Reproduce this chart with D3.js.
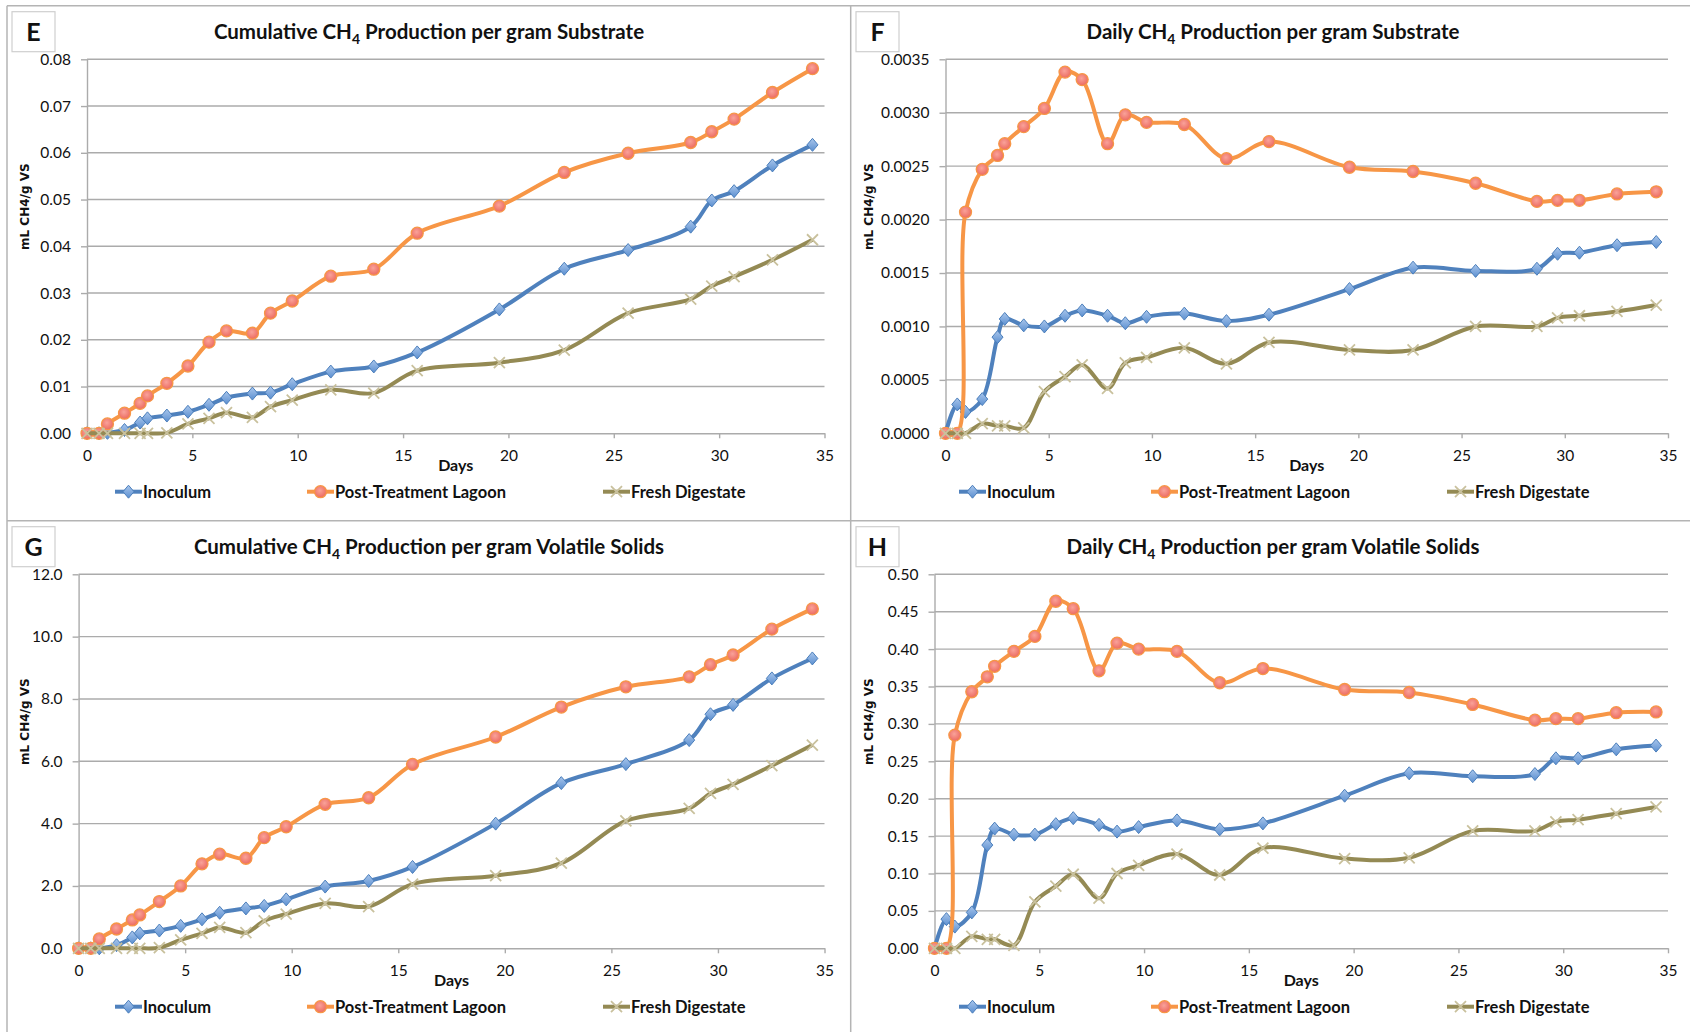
<!DOCTYPE html>
<html>
<head>
<meta charset="utf-8">
<script src="https://cdn.jsdelivr.net/npm/d3@7"></script>
<style>
  body { margin: 0; background: #fff; }
  text { font-family: Lato, "Open Sans", sans-serif; fill: #111; }
</style>
</head>
<body>
<script>
// sampling days (shared by all four panels)
var days = [0, 0.57, 0.97, 1.78, 2.52, 2.87, 3.79, 4.79, 5.79, 6.62, 7.85, 8.71, 9.74, 11.57, 13.61, 15.67, 19.57, 22.65, 25.68, 28.65, 29.65, 30.71, 32.53, 34.43];

var seriesNames = ["Inoculum", "Post-Treatment Lagoon", "Fresh Digestate"];

// E - cumulative per gram substrate
var cumSubInoculum = [0, 0, 0.0001, 0.0007, 0.0023, 0.0032, 0.0038, 0.0046, 0.0061, 0.0076, 0.0085, 0.0087, 0.0105, 0.0132, 0.0143, 0.0173, 0.0265, 0.0352, 0.0392, 0.0442, 0.0498, 0.0518, 0.0573, 0.0617];
var cumSubLagoon = [0, 0, 0.0020, 0.0043, 0.0064, 0.0080, 0.0107, 0.0144, 0.0195, 0.0219, 0.0214, 0.0257, 0.0283, 0.0336, 0.0351, 0.0428, 0.0486, 0.0558, 0.0599, 0.0622, 0.0645, 0.0672, 0.0729, 0.0780];
var cumSubFresh = [0, 0, 0, 0, 0, 0, 0.0001, 0.0020, 0.0032, 0.0044, 0.0034, 0.0057, 0.0071, 0.0093, 0.0086, 0.0134, 0.0151, 0.0178, 0.0257, 0.0287, 0.0315, 0.0335, 0.0371, 0.0414];

// F - daily per gram substrate
var daySubInoculum = [0, 0.00027, 0.00020, 0.00032, 0.00090, 0.00107, 0.00101, 0.00100, 0.00110, 0.00115, 0.00110, 0.00103, 0.00109, 0.00112, 0.00105, 0.00111, 0.00135, 0.00155, 0.00152, 0.00154, 0.00168, 0.00169, 0.00176, 0.00179];
var daySubLagoon = [0, 0, 0.00207, 0.00247, 0.00260, 0.00271, 0.00287, 0.00304, 0.00338, 0.00331, 0.00271, 0.00298, 0.00291, 0.00289, 0.00257, 0.00273, 0.00249, 0.00245, 0.00234, 0.00217, 0.00218, 0.00218, 0.00224, 0.00226];
var daySubFresh = [0, 0, 0, 0.00009, 0.00007, 0.00007, 0.00005, 0.00039, 0.00053, 0.00064, 0.00042, 0.00066, 0.00071, 0.00080, 0.00065, 0.00085, 0.00078, 0.00078, 0.00100, 0.00100, 0.00108, 0.00110, 0.00114, 0.00120];

// G - cumulative per gram volatile solids
var cumVsInoculum = [0, 0, 0, 0.10, 0.35, 0.48, 0.57, 0.72, 0.93, 1.14, 1.28, 1.36, 1.57, 1.98, 2.16, 2.61, 4.00, 5.30, 5.91, 6.68, 7.51, 7.81, 8.66, 9.30];
var cumVsLagoon = [0, 0, 0.30, 0.62, 0.91, 1.07, 1.50, 2.00, 2.71, 3.02, 2.89, 3.55, 3.90, 4.62, 4.83, 5.90, 6.78, 7.74, 8.39, 8.71, 9.10, 9.41, 10.24, 10.89];
var cumVsFresh = [0, 0, 0, 0, 0, 0, 0.02, 0.27, 0.48, 0.67, 0.50, 0.88, 1.10, 1.44, 1.34, 2.06, 2.33, 2.73, 4.09, 4.49, 4.97, 5.26, 5.86, 6.52];

// H - daily per gram volatile solids
var dayVsInoculum = [0, 0.039, 0.029, 0.048, 0.138, 0.160, 0.152, 0.152, 0.166, 0.174, 0.165, 0.156, 0.162, 0.171, 0.159, 0.167, 0.204, 0.234, 0.230, 0.233, 0.254, 0.254, 0.266, 0.271];
var dayVsLagoon = [0, 0, 0.285, 0.343, 0.363, 0.377, 0.397, 0.417, 0.464, 0.454, 0.371, 0.408, 0.400, 0.397, 0.355, 0.374, 0.346, 0.342, 0.326, 0.305, 0.307, 0.307, 0.315, 0.316];
var dayVsFresh = [0, 0, 0, 0.016, 0.012, 0.012, 0.004, 0.062, 0.083, 0.099, 0.067, 0.100, 0.111, 0.126, 0.098, 0.134, 0.120, 0.121, 0.157, 0.157, 0.169, 0.172, 0.180, 0.189];

var xTicks = [0, 5, 10, 15, 20, 25, 30, 35];

var panels = [
  {letter: "E", left: 7, top: 5.7, x0: 87, x1: 824.5, y0: 59.3, y1: 433.3, ymax: 0.08, step: 0.01, fmt: ".2f",
   title: ["Cumulative CH", "4", " Production per gram Substrate"], data: [cumSubInoculum, cumSubLagoon, cumSubFresh]},
  {letter: "F", left: 851, top: 5.7, x0: 945.5, x1: 1668, y0: 59.3, y1: 433.3, ymax: 0.0035, step: 0.0005, fmt: ".4f",
   title: ["Daily CH", "4", " Production per gram Substrate"], data: [daySubInoculum, daySubLagoon, daySubFresh]},
  {letter: "G", left: 7, top: 520.7, x0: 78.6, x1: 824.5, y0: 574.3, y1: 948.3, ymax: 12, step: 2, fmt: ".1f",
   title: ["Cumulative CH", "4", " Production per gram Volatile Solids"], data: [cumVsInoculum, cumVsLagoon, cumVsFresh]},
  {letter: "H", left: 851, top: 520.7, x0: 934.5, x1: 1668, y0: 574.3, y1: 948.3, ymax: 0.5, step: 0.05, fmt: ".2f",
   title: ["Daily CH", "4", " Production per gram Volatile Solids"], data: [dayVsInoculum, dayVsLagoon, dayVsFresh]}
];

var lineColors = ["#4F81BD", "#F79646", "#948A54"];
var gridColor = "#ababab";

var svg = d3.select("body").append("svg")
    .attr("width", 1690)
    .attr("height", 1032);

var defs = svg.append("defs");
var gBlue = defs.append("linearGradient").attr("id", "diam").attr("x1", 0).attr("y1", 0).attr("x2", 0).attr("y2", 1);
gBlue.append("stop").attr("offset", "0%").attr("stop-color", "#a9c6ec");
gBlue.append("stop").attr("offset", "100%").attr("stop-color", "#5b8fd0");
var gRed = defs.append("radialGradient").attr("id", "dot").attr("cx", "45%").attr("cy", "40%").attr("r", "60%");
gRed.append("stop").attr("offset", "0%").attr("stop-color", "#f9a29a");
gRed.append("stop").attr("offset", "100%").attr("stop-color", "#ec6a5e");

// panel frame lines
var frame = [[7, 5.7, 1690, 5.7], [7, 520.7, 1690, 520.7], [7, 5.7, 7, 1032], [850.7, 5.7, 850.7, 1032]];
svg.selectAll(".frame").data(frame).enter().append("line")
    .attr("x1", d => d[0]).attr("y1", d => d[1]).attr("x2", d => d[2]).attr("y2", d => d[3])
    .attr("stroke", "#b4b4b4").attr("stroke-width", 1.5);

function drawMarker(sel, i) {
  if (i == 0) {
    sel.append("path").attr("d", "M0,-6.5L5.5,0L0,6.5L-5.5,0Z")
      .attr("fill", "url(#diam)").attr("stroke", "#4A7EBB").attr("stroke-width", 1);
  } else if (i == 1) {
    sel.append("circle").attr("r", 6)
      .attr("fill", "url(#dot)").attr("stroke", "#F79646").attr("stroke-width", 1.3);
  } else {
    sel.append("path").attr("d", "M-5.5,-5.5L5.5,5.5M-5.5,5.5L5.5,-5.5")
      .attr("stroke", "#c9c19d").attr("stroke-width", 1.8).attr("fill", "none");
  }
}

panels.forEach(function(p) {
  var g = svg.append("g");

  var x = d3.scaleLinear().domain([0, 35]).range([p.x0, p.x1]);
  var y = d3.scaleLinear().domain([0, p.ymax]).range([p.y1, p.y0]);
  var yTicks = d3.range(0, p.ymax + p.step / 2, p.step);

  // letter box
  g.append("rect").attr("x", p.left + 5).attr("y", p.top + 6).attr("width", 43).attr("height", 40)
    .attr("fill", "#fff").attr("stroke", "#cfcfcf").attr("stroke-width", 1.2);
  g.append("text").attr("x", p.left + 26.5).attr("y", p.top + 35).attr("text-anchor", "middle")
    .style("font-size", "25px").style("font-weight", "bold").text(p.letter);

  // title
  var t = g.append("text").attr("x", p.left + 422).attr("y", p.top + 33).attr("text-anchor", "middle")
    .style("font-size", "20.5px").style("font-weight", "bold");
  t.append("tspan").text(p.title[0]);
  t.append("tspan").attr("dy", 5).style("font-size", "14px").text(p.title[1]);
  t.append("tspan").attr("dy", -5).text(p.title[2]);

  // gridlines
  g.selectAll(".grid").data(yTicks.slice(1)).enter().append("line")
    .attr("x1", p.x0).attr("x2", p.x1)
    .attr("y1", d => y(d)).attr("y2", d => y(d))
    .attr("stroke", gridColor).attr("stroke-width", 1.4);

  // axes
  var yAxis = g.append("g").attr("transform", `translate(${p.x0},0)`)
    .call(d3.axisLeft(y).tickValues(yTicks).tickFormat(d3.format(p.fmt)).tickSize(6).tickSizeOuter(0).tickPadding(10));
  var xAxis = g.append("g").attr("transform", `translate(0,${p.y1})`)
    .call(d3.axisBottom(x).tickValues(xTicks).tickFormat(d3.format("d")).tickSize(5).tickSizeOuter(0).tickPadding(12));
  [yAxis, xAxis].forEach(function(a) {
    a.selectAll("path, line").attr("stroke", gridColor).attr("stroke-width", 1.4);
    a.selectAll("text").style("font-size", "15.5px").style("font-family", "Lato, sans-serif").attr("fill", "#111");
  });

  // axis titles
  g.append("text").attr("x", (p.x0 + p.x1) / 2).attr("y", p.top + 465).attr("text-anchor", "middle")
    .style("font-size", "16px").style("font-weight", "bold").text("Days");
  g.append("text")
    .attr("transform", `translate(${p.left + 21.5},${p.top + 201}) rotate(-90)`)
    .attr("text-anchor", "middle")
    .style("font-family", "'DejaVu Sans', sans-serif").style("font-size", "12px").style("font-weight", "bold")
    .text("mL CH4/g VS");

  // series
  var line = d3.line()
    .x(d => x(d[0]))
    .y(d => y(d[1]))
    .curve(d3.curveCatmullRom.alpha(0.5));

  p.data.forEach(function(vals, i) {
    var pts = days.map((d, k) => [d, vals[k]]);
    g.append("path").attr("d", line(pts))
      .attr("fill", "none").attr("stroke", lineColors[i]).attr("stroke-width", 4)
      .attr("stroke-linejoin", "round");
    var m = g.selectAll(".m" + i).data(pts).enter().append("g")
      .attr("transform", d => `translate(${x(d[0])},${y(d[1])})`);
    drawMarker(m, i);
  });

  // legend
  var legX = [108, 300, 596];
  seriesNames.forEach(function(name, i) {
    var lx = p.left + legX[i];
    var ly = p.top + 486;
    g.append("line").attr("x1", lx).attr("x2", lx + 27).attr("y1", ly).attr("y2", ly)
      .attr("stroke", lineColors[i]).attr("stroke-width", 4);
    var m = g.append("g").attr("transform", `translate(${lx + 13.5},${ly})`);
    drawMarker(m, i);
    g.append("text").attr("x", lx + 28).attr("y", ly + 6)
      .style("font-size", "16.5px").style("font-weight", "bold").text(name);
  });
});
</script>
</body>
</html>
